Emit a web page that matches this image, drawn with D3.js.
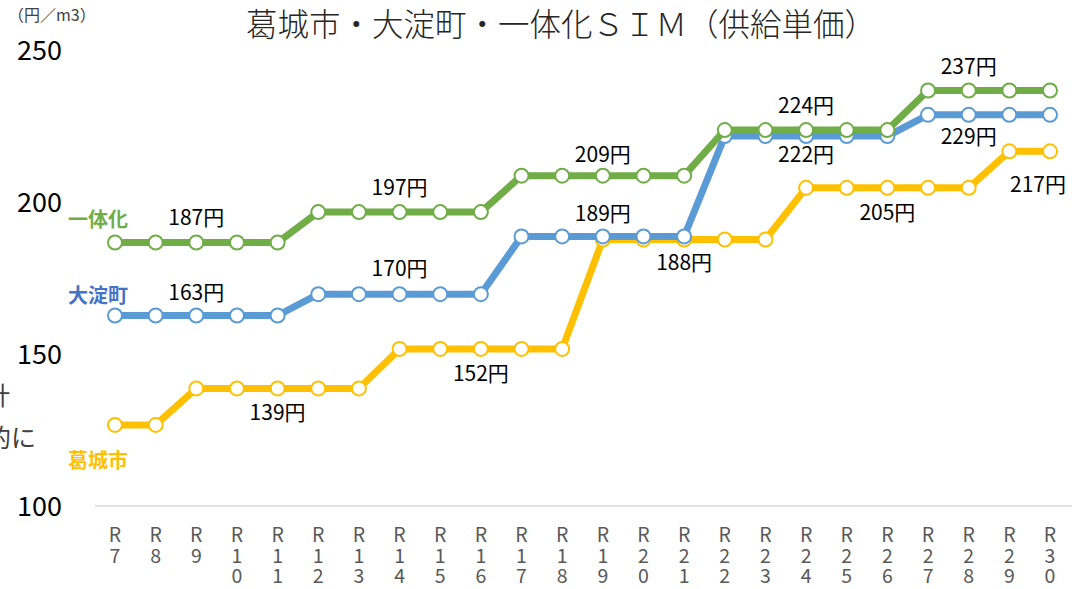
<!DOCTYPE html>
<html>
<head>
<meta charset="utf-8">
<script src="https://cdn.jsdelivr.net/npm/d3@7"></script>
<style>
  body { margin: 0; background: #fff; overflow: hidden; }
  text { font-family: "Noto Sans CJK JP", "Noto Sans", sans-serif; }
</style>
</head>
<body>
<svg id="chart" width="1083" height="589"></svg>
<script>
const years = ["R7","R8","R9","R10","R11","R12","R13","R14","R15","R16","R17","R18",
               "R19","R20","R21","R22","R23","R24","R25","R26","R27","R28","R29","R30"];
const katsuragi = [127,127,139,139,139,139,139,152,152,152,152,152,188,188,188,188,188,205,205,205,205,205,217,217];
const oyodo     = [163,163,163,163,163,170,170,170,170,170,189,189,189,189,189,222,222,222,222,222,229,229,229,229];
const ittaika   = [187,187,187,187,187,197,197,197,197,197,209,209,209,209,209,224,224,224,224,224,237,237,237,237];
const yTicks = [100, 150, 200, 250];

// drawing order: yellow, blue, green
const series = [
    { name: "葛城市", values: katsuragi, color: "#FFC000", textColor: "#FFC000", off: 36 },
    { name: "大淀町", values: oyodo, color: "#5B9BD5", textColor: "#4472C4", off: -19 },
    { name: "一体化", values: ittaika, color: "#70AD47", textColor: "#70AD47", off: -23 }
];

// which points get a value label, and where
const labels = [
    { s: 2, i: 2, dy: -25 }, { s: 1, i: 2, dy: -23 }, { s: 0, i: 4, dy: 24 },
    { s: 2, i: 7, dy: -24 }, { s: 1, i: 7, dy: -26 }, { s: 0, i: 9, dy: 25 },
    { s: 2, i: 12, dy: -21 }, { s: 1, i: 12, dy: -23 }, { s: 0, i: 14, dy: 23 },
    { s: 2, i: 17, dy: -24 }, { s: 1, i: 17, dy: 19 }, { s: 0, i: 19, dy: 25 },
    { s: 2, i: 21, dy: -24 }, { s: 1, i: 21, dy: 22 }, { s: 0, i: 23, dy: 33, dx: -12 }
];

const svg = d3.select("#chart");

const x = d3.scalePoint().domain(years).range([115, 1050]);
const y = d3.scaleLinear().domain([100, 250]).range([507, 51]);

// title + unit
svg.append("text")
    .attr("x", 561).attr("y", 36)
    .attr("text-anchor", "middle")
    .attr("font-size", 31.5).attr("font-weight", 300)
    .attr("fill", "#262626")
    .text("葛城市・大淀町・一体化ＳＩＭ（供給単価）");

svg.append("text")
    .attr("x", 8).attr("y", 21)
    .attr("font-size", 16).attr("fill", "#404040")
    .text("（円／m3）");

// background text fragments cut by the left edge
svg.append("text").attr("x", 10).attr("y", 405).attr("text-anchor", "end")
    .attr("font-size", 25).attr("fill", "#404040").text("計");
svg.append("text").attr("x", 36).attr("y", 447).attr("text-anchor", "end")
    .attr("font-size", 25).attr("fill", "#404040").text("的に");

// y tick labels
svg.append("g").selectAll("text")
    .data(yTicks)
    .join("text")
    .attr("x", 17)
    .attr("y", d => y(d))
    .attr("dy", "0.35em")
    .attr("font-size", 27)
    .attr("fill", "#000")
    .text(d => d);

// x axis line
svg.append("line")
    .attr("x1", 95).attr("x2", 1072)
    .attr("y1", 506).attr("y2", 506)
    .attr("stroke", "#d9d9d9").attr("stroke-width", 1.5);

// x tick labels, one character per line
const chars = years.flatMap(yr => yr.split("").map((c, k) => ({ yr, c, k })));
svg.append("g").selectAll("text")
    .data(chars)
    .join("text")
    .attr("x", d => x(d.yr))
    .attr("y", d => 542 + d.k * 20.5)
    .attr("text-anchor", "middle")
    .attr("font-size", 19.5)
    .attr("fill", "#595959")
    .text(d => d.c);

// lines + markers
const line = d3.line().x((d, i) => x(years[i])).y(d => y(d));
series.forEach(s => {
    const g = svg.append("g");
    g.append("path")
        .attr("d", line(s.values))
        .attr("fill", "none")
        .attr("stroke", s.color)
        .attr("stroke-width", 7)
        .attr("stroke-linejoin", "round");
    g.selectAll("circle")
        .data(s.values)
        .join("circle")
        .attr("cx", (d, i) => x(years[i]))
        .attr("cy", d => y(d))
        .attr("r", 7)
        .attr("fill", "#fff")
        .attr("stroke", s.color)
        .attr("stroke-width", 2);
});

// series names at left
svg.append("g").selectAll("text")
    .data(series)
    .join("text")
    .attr("x", 98)
    .attr("y", s => y(s.values[0]) + s.off)
    .attr("dy", "0.35em")
    .attr("text-anchor", "middle")
    .attr("font-size", 20).attr("font-weight", "bold")
    .attr("fill", s => s.textColor)
    .text(s => s.name);

// value labels
svg.append("g").selectAll("text")
    .data(labels)
    .join("text")
    .attr("x", d => x(years[d.i]) + (d.dx || 0))
    .attr("y", d => y(series[d.s].values[d.i]) + d.dy)
    .attr("dy", "0.35em")
    .attr("text-anchor", "middle")
    .attr("font-size", 21)
    .attr("fill", "#000")
    .text(d => series[d.s].values[d.i] + "円");
</script>
</body>
</html>
